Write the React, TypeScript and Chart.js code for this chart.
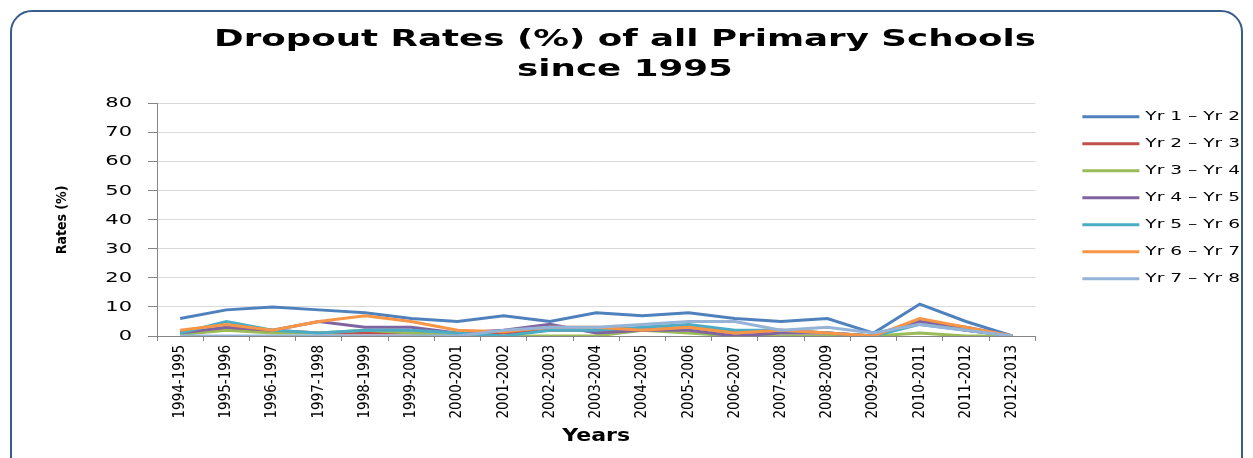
import React, { useEffect, useRef } from "react";
import { Chart, registerables } from "chart.js";

Chart.register(...registerables);

const categories = [
  "1994-1995", "1995-1996", "1996-1997", "1997-1998", "1998-1999", "1999-2000",
  "2000-2001", "2001-2002", "2002-2003", "2003-2004", "2004-2005", "2005-2006",
  "2006-2007", "2007-2008", "2008-2009", "2009-2010", "2010-2011", "2011-2012", "2012-2013",
];

const yr1to2 = [6, 9, 10, 9, 8, 6, 5, 7, 5, 8, 7, 8, 6, 5, 6, 1, 11, 5, 0];
const yr2to3 = [1.5, 2, 2, 1, 1, 1, 0, 1, 2, 2, 2, 3, 1, 2, 1, 0, 5, 2, 0];
const yr3to4 = [0.5, 2, 1, 1, 2, 1, 0, 0, 0, 0, 2, 1, 0, 0, 0, 0, 1, 0, 0];
const yr4to5 = [1, 3, 2, 5, 3, 3, 1, 2, 4, 1, 2, 2, 0, 1, 1, 0, 5, 3, 0];
const yr5to6 = [1, 5, 2, 1, 2, 2, 1, 0, 2, 2, 3, 4, 2, 2, 1, 0, 4, 2, 0];
const yr6to7 = [2, 4, 2, 5, 7, 5, 2, 1.5, 3, 3, 2, 3, 1, 2, 1, 0, 6, 3, 0];
const yr7to8 = [0, 0, 0, 0, 0, 0, 0, 2, 3, 3, 4, 5, 5, 2, 3, 1, 4, 2, 0];

const seriesNames = ["Yr 1 – Yr 2", "Yr 2 – Yr 3", "Yr 3 – Yr 4", "Yr 4 – Yr 5", "Yr 5 – Yr 6", "Yr 6 – Yr 7", "Yr 7 – Yr 8"];
const seriesValues = [yr1to2, yr2to3, yr3to4, yr4to5, yr5to6, yr6to7, yr7to8];
const seriesColors = ["#4F81BD", "#C0504D", "#9BBB59", "#8064A2", "#4BACC6", "#F79646", "#95B3D7"];

const yTicks = [0, 10, 20, 30, 40, 50, 60, 70, 80];

const titleLines = ["Dropout Rates (%) of all Primary Schools", "since 1995"];

// horizontal stretch of upright text, keyed by font size (the reference picture is widened)
const stretchBySize: Record<string, number> = { "23": 1.55, "12": 1.55, "14": 1.5, "17": 1.3 };

function stretchFor(font: string): number {
  if (/Narrow|Condensed/.test(font)) return 1;
  const m = font.match(/(\d+(?:\.\d+)?)px/);
  if (!m) return 1;
  return stretchBySize[m[1]] || 1;
}

function patchContext(ctx: CanvasRenderingContext2D) {
  const origFill = ctx.fillText.bind(ctx);
  const origMeasure = ctx.measureText.bind(ctx);
  (ctx as any).fillText = (text: string, x: number, y: number, maxWidth?: number) => {
    const t = ctx.getTransform();
    const rotated = Math.abs(t.b) > 1e-6 || Math.abs(t.c) > 1e-6;
    const sx = rotated ? 1 : stretchFor(ctx.font);
    if (sx === 1) {
      if (maxWidth === undefined) origFill(text, x, y);
      else origFill(text, x, y, maxWidth);
      return;
    }
    ctx.save();
    ctx.translate(x, y);
    ctx.scale(sx, 1);
    if (maxWidth === undefined) origFill(text, 0, 0);
    else origFill(text, 0, 0, maxWidth / sx);
    ctx.restore();
  };
  (ctx as any).measureText = (text: string) => {
    const m = origMeasure(text);
    const sx = stretchFor(ctx.font);
    if (sx === 1) return m;
    return {
      width: m.width * sx,
      actualBoundingBoxLeft: m.actualBoundingBoxLeft * sx,
      actualBoundingBoxRight: m.actualBoundingBoxRight * sx,
      actualBoundingBoxAscent: m.actualBoundingBoxAscent,
      actualBoundingBoxDescent: m.actualBoundingBoxDescent,
      fontBoundingBoxAscent: m.fontBoundingBoxAscent,
      fontBoundingBoxDescent: m.fontBoundingBoxDescent,
    };
  };
}

const legendLift = {
  id: "legendLift",
  afterLayout(chart: any) {
    if (chart.legend) {
      chart.legend.top -= 8;
      chart.legend.bottom -= 8;
    }
  },
};

export default function App() {
  const ref = useRef<HTMLCanvasElement | null>(null);

  useEffect(() => {
    if (!ref.current) return;
    const ctx = ref.current.getContext("2d");
    if (!ctx) return;
    patchContext(ctx);
    const chart = new Chart(ctx, {
      type: "line",
      data: {
        labels: categories,
        datasets: seriesValues.map((vals, i) => ({
          label: seriesNames[i],
          data: vals,
          borderColor: seriesColors[i],
          backgroundColor: seriesColors[i],
          borderWidth: 3,
          pointRadius: 0,
          tension: 0,
          order: seriesValues.length - 1 - i,
          yAxisID: "y",
        })),
      },
      plugins: [legendLift],
      options: {
        responsive: false,
        animation: false,
        layout: { padding: { left: 0, right: 3, top: 25, bottom: 0 } },
        plugins: {
          title: {
            display: true,
            text: titleLines,
            color: "#000",
            font: { family: "DejaVu Sans", size: 23, weight: "bold", lineHeight: 1.3 },
            padding: { top: 0, bottom: 19 },
          },
          legend: {
            position: "right",
            align: "start",
            fullSize: false,
            labels: {
              usePointStyle: true,
              pointStyle: "line",
              pointStyleWidth: 57,
              boxHeight: 12,
              padding: 15,
              color: "#000",
              font: { family: "DejaVu Sans", size: 12 },
              sort: (a: any, b: any) => a.datasetIndex - b.datasetIndex,
            },
          },
          tooltip: { enabled: false },
        },
        scales: {
          x: {
            type: "category",
            offset: true,
            grid: { display: true, drawOnChartArea: false, drawTicks: true, tickLength: 5, offset: true, color: "#868686" },
            border: { display: true, color: "#868686", width: 1 },
            ticks: {
              autoSkip: false,
              maxRotation: 90,
              minRotation: 90,
              padding: 4,
              color: "#000",
              font: { family: "Liberation Sans Narrow, DejaVu Sans Condensed", size: 15 },
            },
            title: {
              display: true,
              text: "Years",
              color: "#000",
              font: { family: "DejaVu Sans", size: 17, weight: "bold" },
              padding: { top: 0, bottom: 11 },
            },
            afterFit: (s: any) => { s.height = 122; },
          },
          y: {
            type: "linear",
            position: "left",
            min: 0,
            max: 80,
            afterBuildTicks: (s: any) => { s.ticks = yTicks.map((v) => ({ value: v })); },
            grid: { color: "#D9D9D9", tickLength: 9, tickColor: "#868686" },
            border: { display: true, color: "#868686", width: 1 },
            ticks: {
              padding: 16,
              color: "#000",
              font: { family: "DejaVu Sans", size: 14 },
            },
            title: {
              display: true,
              text: "Rates (%)",
              color: "#000",
              font: { family: "Liberation Sans Narrow, DejaVu Sans Condensed", size: 14, weight: "bold" },
              padding: { top: 54, bottom: 0 },
            },
            afterFit: (s: any) => { s.width = 157; },
          },
          spacer: {
            type: "linear",
            position: "right",
            display: true,
            grid: { display: false },
            border: { display: false },
            ticks: { display: false },
            afterFit: (s: any) => { s.width = 32; },
          },
        },
      },
    });
    return () => chart.destroy();
  }, []);

  return (
    <div style={{ position: "fixed", left: 0, top: 0, width: 1253, height: 458, background: "#fff", overflow: "hidden" }}>
      <div
        style={{
          position: "absolute",
          left: 10,
          top: 10,
          width: 1233,
          height: 470,
          border: "2px solid #385D8A",
          borderRadius: 22,
          boxSizing: "border-box",
        }}
      />
      <canvas ref={ref} width={1253} height={458} style={{ position: "absolute", left: 0, top: 0 }} />
    </div>
  );
}
